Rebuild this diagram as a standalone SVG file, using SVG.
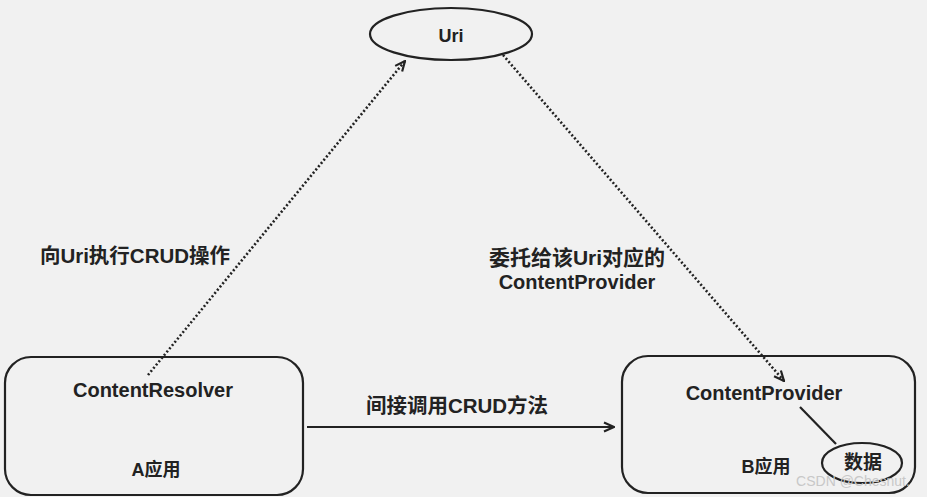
<svg xmlns="http://www.w3.org/2000/svg" width="927" height="497" viewBox="0 0 927 497">
<style>
.t{font-family:"Liberation Sans","Noto Sans CJK SC",Arial,sans-serif;font-weight:bold;fill:#222;text-anchor:middle}
.shape{fill:none;stroke:#222;stroke-width:2.2}
.dot{fill:none;stroke:#222;stroke-width:2.6;stroke-dasharray:2 2.2}
.solid{fill:none;stroke:#222;stroke-width:2.2}
</style>
<defs>
<marker id="ah" viewBox="0 0 12 12" refX="11" refY="6" markerWidth="12" markerHeight="12" markerUnits="userSpaceOnUse" orient="auto">
<path d="M1,1.5 L11,6 L1,10.5" fill="none" stroke="#222" stroke-width="2.2"/>
</marker>
</defs>
<rect width="927" height="497" fill="#f1f1f1"/>
<g id="uri">
<ellipse class="shape" cx="451" cy="34" rx="81" ry="26"/>
<text class="t" x="451" y="42" font-size="18">Uri</text>
</g>
<g id="appA">
<rect class="shape" x="5" y="357" width="298" height="138" rx="26"/>
<text class="t" x="153" y="397" font-size="20">ContentResolver</text>
<text class="t" x="156" y="476" font-size="18">A应用</text>
</g>
<g id="appB">
<rect class="shape" x="622" y="356" width="293" height="137" rx="26"/>
<text class="t" x="764" y="400" font-size="20">ContentProvider</text>
<text class="t" x="766" y="473" font-size="18">B应用</text>
</g>
<g id="data">
<ellipse class="shape" cx="862" cy="463" rx="40" ry="20"/>
<text class="t" x="863" y="469" font-size="19">数据</text>
</g>
<g id="connectors">
<line class="dot" x1="148" y1="375" x2="405" y2="61" marker-end="url(#ah)"/>
<line class="dot" x1="503" y1="55" x2="784" y2="381" marker-end="url(#ah)"/>
<line class="solid" x1="307" y1="427" x2="614" y2="427" marker-end="url(#ah)"/>
<line class="solid" x1="800" y1="407" x2="836" y2="444"/>
</g>
<g id="labels">
<text class="t" x="135" y="263" font-size="20.5">向Uri执行CRUD操作</text>
<text class="t" x="577" y="265" font-size="21">委托给该Uri对应的</text>
<text class="t" x="577" y="289" font-size="20">ContentProvider</text>
<text class="t" x="457" y="413" font-size="20.5">间接调用CRUD方法</text>
</g>
<text x="853" y="486" font-family="Liberation Sans,Arial,sans-serif" font-size="14" fill="#c8c8c8" text-anchor="middle">CSDN @Chesnut.</text>
</svg>
